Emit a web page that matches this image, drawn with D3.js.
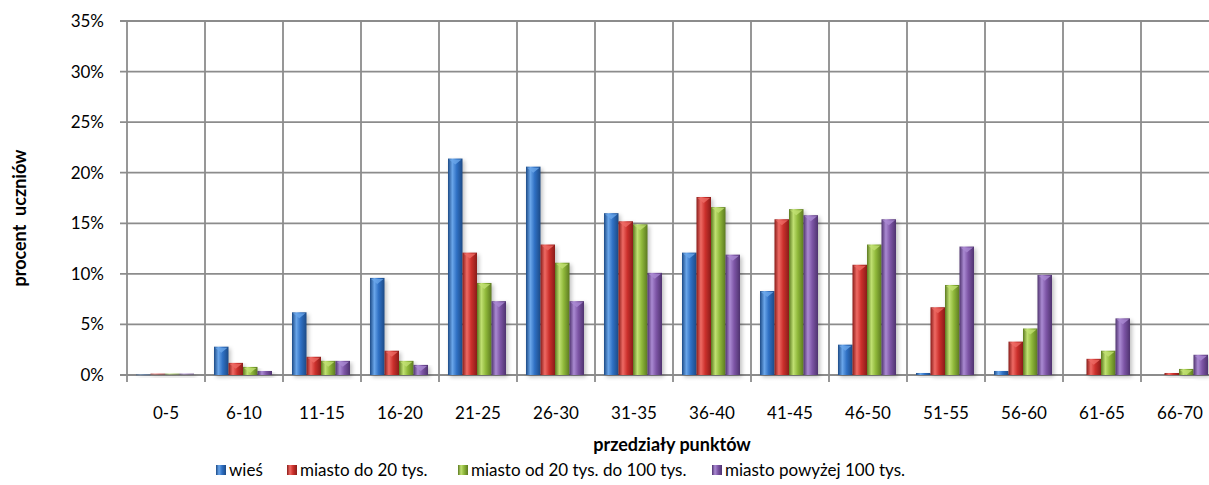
<!DOCTYPE html>
<html><head><meta charset="utf-8">
<script src="https://cdn.jsdelivr.net/npm/d3@7"></script>
<style>
html,body{margin:0;padding:0;background:#fff;}
svg{display:block;font-family:Lato,"Open Sans",sans-serif;}
</style></head>
<body><svg id="c" width="1209" height="485"></svg>
<script>
const categories = ["0-5","6-10","11-15","16-20","21-25","26-30","31-35","36-40","41-45","46-50","51-55","56-60","61-65","66-70"];
const seriesNames = ["wieś","miasto do 20 tys.","miasto od 20 tys. do 100 tys.","miasto powyżej 100 tys."];
const wies      = [0.1, 2.8, 6.2, 9.6, 21.4, 20.6, 16.0, 12.1, 8.3, 3.0, 0.2, 0.4, 0.0, 0.0];
const miasto20  = [0.2, 1.2, 1.8, 2.4, 12.1, 12.9, 15.2, 17.6, 15.4, 10.9, 6.7, 3.3, 1.6, 0.2];
const miasto100 = [0.2, 0.8, 1.4, 1.4, 9.1, 11.1, 14.9, 16.6, 16.4, 12.9, 8.9, 4.6, 2.4, 0.6];
const miastoPow = [0.2, 0.4, 1.4, 1.0, 7.3, 7.3, 10.1, 11.9, 15.8, 15.4, 12.7, 9.9, 5.6, 2.0];
const yTicks = [0,5,10,15,20,25,30,35];
const seriesValues = [wies, miasto20, miasto100, miastoPow];
const colors = [
  {base:"#2f70c4", light:"#6aa6ea", dark:"#1c4a86"},
  {base:"#cc302c", light:"#ee6a64", dark:"#8a1c19"},
  {base:"#8fb83a", light:"#c0e072", dark:"#5c7a20"},
  {base:"#7d55a6", light:"#aa8ad2", dark:"#4f336f"}
];

const svg = d3.select("#c");
const pLeft = 127, pTop = 21, step = 78;
const pBottom = 375;
const pRight = pLeft + step*categories.length;

const x0 = d3.scaleBand().domain(categories).range([pLeft, pRight]).padding(0);
const x1 = d3.scaleBand().domain(d3.range(4)).range([9, 67]).padding(0);
const y = d3.scaleLinear().domain([0,35]).range([pBottom, pTop]);

const defs = svg.append("defs");
colors.forEach((c,i)=>{
  const g = defs.append("linearGradient").attr("id","g"+i).attr("x1","0").attr("x2","1").attr("y1","0").attr("y2","0");
  g.append("stop").attr("offset","0%").attr("stop-color",c.dark);
  g.append("stop").attr("offset","30%").attr("stop-color",c.light);
  g.append("stop").attr("offset","60%").attr("stop-color",c.base);
  g.append("stop").attr("offset","100%").attr("stop-color",c.dark);
});
const f = defs.append("filter").attr("id","sh").attr("x","-50%").attr("y","-10%").attr("width","200%").attr("height","130%");
f.append("feGaussianBlur").attr("stdDeviation","2");

// gridlines
const gridColor = "#8c8c8c";
svg.append("g").selectAll("line").data(yTicks).join("line")
  .attr("x1", pLeft-7).attr("x2", pRight)
  .attr("y1", d=>y(d)).attr("y2", d=>y(d))
  .attr("stroke", gridColor).attr("stroke-width",1.8);
svg.append("g").selectAll("line").data(d3.range(categories.length+1)).join("line")
  .attr("x1", d=>pLeft+d*step).attr("x2", d=>pLeft+d*step)
  .attr("y1", pTop).attr("y2", pBottom+7)
  .attr("stroke", gridColor).attr("stroke-width",1.8);

// y labels
svg.append("g").selectAll("text").data(yTicks).join("text")
  .attr("x", 104).attr("y", d=>y(d)).attr("dy","0.35em")
  .attr("text-anchor","end").attr("font-size",17).attr("fill","#000")
  .text(d=>d+"%");

// bars
const data = [];
categories.forEach((cat,ci)=>{
  seriesValues.forEach((vals,si)=>{ data.push({cat, si, v: vals[ci]}); });
});
const bw = x1.bandwidth();
svg.append("g").selectAll("rect").data(data.filter(d=>d.v>0)).join("rect")
  .attr("x", d=>x0(d.cat)+x1(d.si)+2)
  .attr("y", d=>y(d.v)+2)
  .attr("width", bw)
  .attr("height", d=>pBottom - y(d.v))
  .attr("fill","#000").attr("opacity",0.25).attr("filter","url(#sh)");
const bars = svg.append("g");
bars.selectAll("rect").data(data.filter(d=>d.v>0)).join("rect")
  .attr("x", d=>x0(d.cat)+x1(d.si))
  .attr("y", d=>y(d.v))
  .attr("width", bw)
  .attr("height", d=>Math.max(1.5, pBottom - y(d.v)))
  .attr("fill", d=>"url(#g"+d.si+")")
  .attr("opacity", d=>d.cat==="0-5"?0.35:1);
bars.selectAll("path").data(data.filter(d=>d.v>0.5)).join("path")
  .attr("d", d=>{
    const xx = x0(d.cat)+x1(d.si), yy = y(d.v);
    return `M${xx+1},${yy+1}L${xx+bw-1},${yy+1}L${xx+bw/2},${yy+6}Z`;
  })
  .attr("fill", d=>colors[d.si].light).attr("opacity",0.8);

// x labels
svg.append("g").selectAll("text").data(categories).join("text")
  .attr("x", d=>x0(d)+step/2).attr("y", 413).attr("dy","0.35em")
  .attr("text-anchor","middle").attr("font-size",17).attr("fill","#000")
  .text(d=>d);

// axis titles
svg.append("text").attr("x", 672).attr("y", 445).attr("dy","0.35em")
  .attr("text-anchor","middle").attr("font-size",18).attr("font-weight","bold")
  .text("przedziały punktów");
svg.append("text").attr("transform","translate(20,218) rotate(-90)").attr("dy","0.35em")
  .attr("text-anchor","middle").attr("font-size",18).attr("font-weight","bold")
  .style("white-space","pre")
  .text("procent  uczniów");

// legend
const legendX = [216, 287, 458, 712];
const lg = svg.append("g").selectAll("g").data(seriesNames).join("g")
  .attr("transform",(d,i)=>`translate(${legendX[i]},470)`);
lg.append("rect").attr("x",0).attr("y",-5).attr("width",10).attr("height",10)
  .attr("fill",(d,i)=>"url(#g"+i+")");
lg.append("text").attr("x",13).attr("y",0).attr("dy","0.35em").attr("font-size",17).text(d=>d);
</script></body></html>
